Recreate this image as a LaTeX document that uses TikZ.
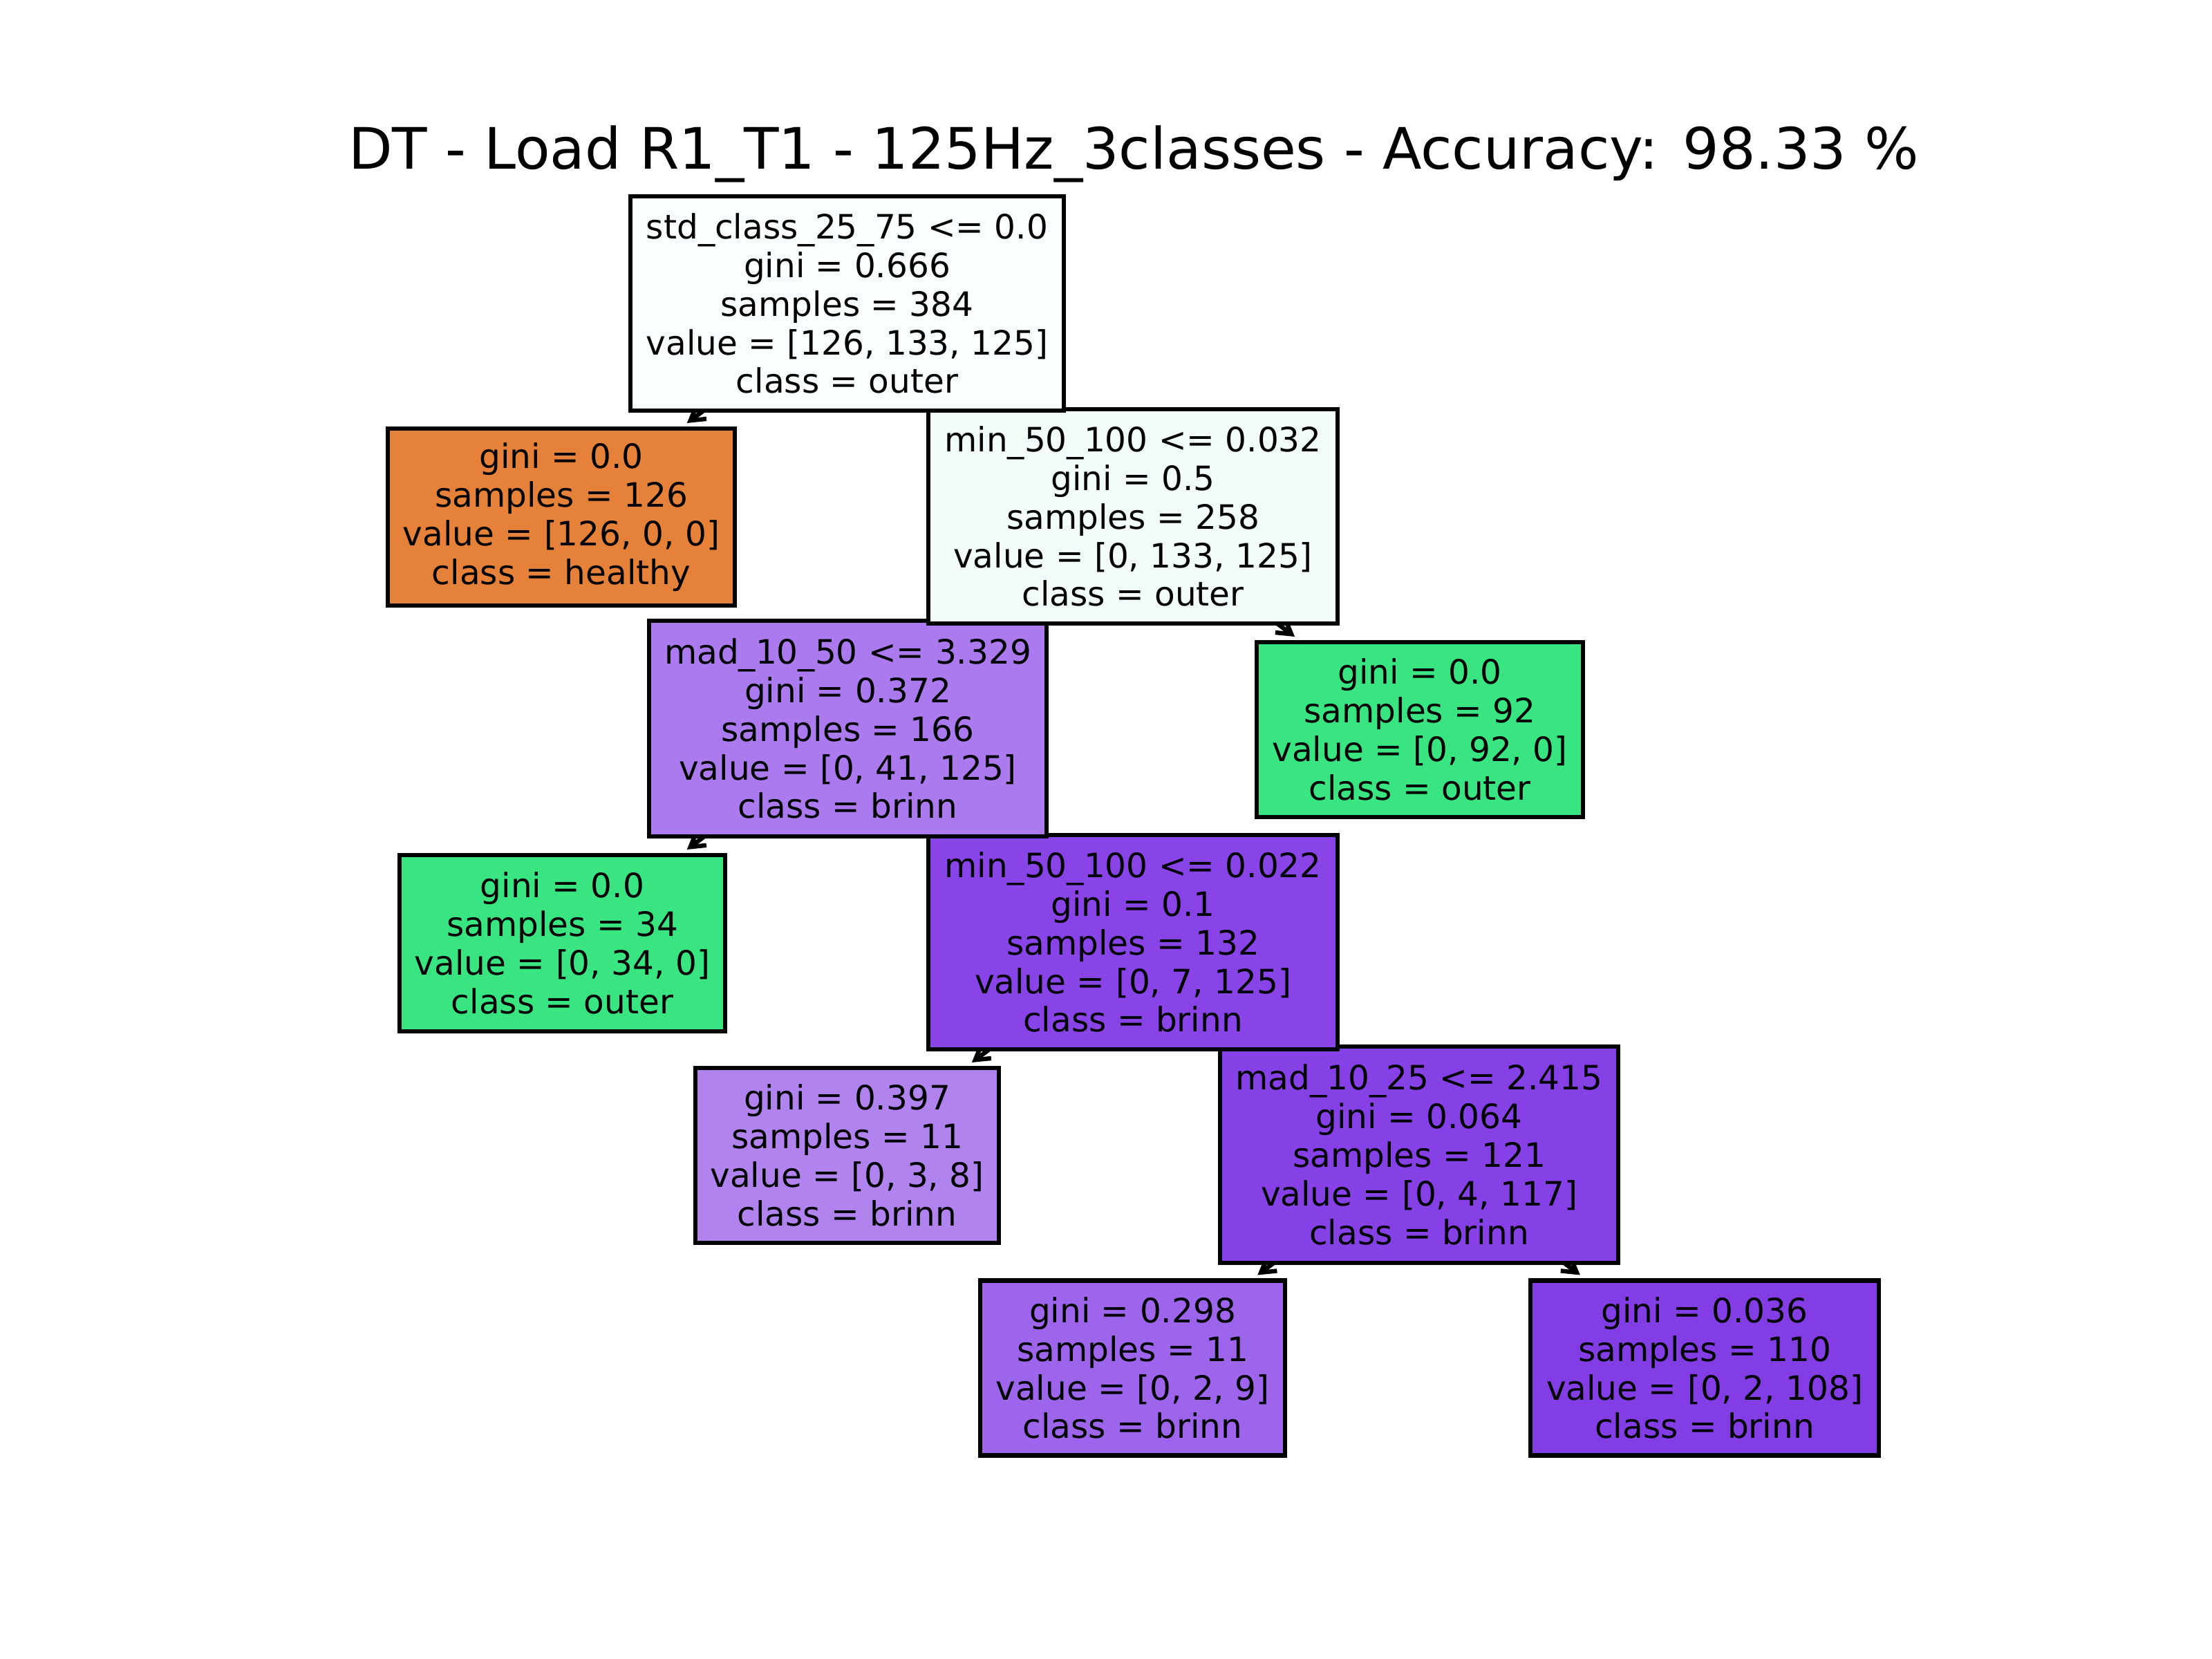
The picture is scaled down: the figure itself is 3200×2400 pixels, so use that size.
\documentclass[tikz,border=0pt]{standalone}
\usepackage{fontspec}
\setmainfont{DejaVu Sans}
\usetikzlibrary{arrows.meta,backgrounds}
\definecolor{cRoot}{RGB}{250,254,252}
\definecolor{cMinA}{RGB}{243,253,247}
\definecolor{cMadA}{RGB}{170,122,238}
\definecolor{cMinB}{RGB}{136,68,230}
\definecolor{cBrA}{RGB}{176,131,239}
\definecolor{cMadB}{RGB}{133,64,230}
\definecolor{cBrB}{RGB}{157,101,235}
\definecolor{cBrC}{RGB}{131,61,229}
\definecolor{cHealthy}{RGB}{229,129,57}
\definecolor{cOuter}{RGB}{57,229,129}
\tikzset{
  tree/.style={draw=black, line width=1.8pt, inner sep=0pt, align=center,
    font=\fontsize{13.8}{15.9}\selectfont, text=black},
  edge/.style={line width=1.8pt, -{Straight Barb[length=0.2cm,width=0.24cm]}, shorten >=0.08cm},
  ttl/.style={font=\fontsize{23.5}{28}\selectfont, anchor=base}
}
\begin{document}
\begin{tikzpicture}[x=0.01cm,y=-0.01cm]
\useasboundingbox (0,0) rectangle (3200,2400);
\node[ttl] (title) at (1640,245) {DT - Load R1\_T1 - 125Hz\_3classes - Accuracy: 98.33 \%};
% deepest first, so parents lie on top
\node[tree, fill=cBrC, minimum width=5.04cm, minimum height=2.53cm] (n10) at (2466,1979)
  {gini = 0.036\\samples = 110\\value = [0, 2, 108]\\class = brinn};
\node[tree, fill=cBrB, minimum width=4.41cm, minimum height=2.53cm] (n9) at (1638.5,1979)
  {gini = 0.298\\samples = 11\\value = [0, 2, 9]\\class = brinn};
\node[tree, fill=cMadB, minimum width=5.76cm, minimum height=3.13cm] (n8) at (2053,1670.5)
  {mad\_10\_25 <= 2.415\\gini = 0.064\\samples = 121\\value = [0, 4, 117]\\class = brinn};
\node[tree, fill=cBrA, minimum width=4.39cm, minimum height=2.53cm] (n7) at (1225.5,1671.5)
  {gini = 0.397\\samples = 11\\value = [0, 3, 8]\\class = brinn};
\node[tree, fill=cMinB, minimum width=5.92cm, minimum height=3.10cm] (n6) at (1639,1363)
  {min\_50\_100 <= 0.022\\gini = 0.1\\samples = 132\\value = [0, 7, 125]\\class = brinn};
\node[tree, fill=cOuter, minimum width=4.71cm, minimum height=2.55cm] (n5) at (813.5,1364.5)
  {gini = 0.0\\samples = 34\\value = [0, 34, 0]\\class = outer};
\node[tree, fill=cOuter, minimum width=4.72cm, minimum height=2.53cm] (n4) at (2054,1055.5)
  {gini = 0.0\\samples = 92\\value = [0, 92, 0]\\class = outer};
\node[tree, fill=cMadA, minimum width=5.75cm, minimum height=3.12cm] (n3) at (1226.5,1054)
  {mad\_10\_50 <= 3.329\\gini = 0.372\\samples = 166\\value = [0, 41, 125]\\class = brinn};
\node[tree, fill=cMinA, minimum width=5.92cm, minimum height=3.10cm] (n2) at (1639,747)
  {min\_50\_100 <= 0.032\\gini = 0.5\\samples = 258\\value = [0, 133, 125]\\class = outer};
\node[tree, fill=cHealthy, minimum width=5.02cm, minimum height=2.56cm] (n1) at (812,748)
  {gini = 0.0\\samples = 126\\value = [126, 0, 0]\\class = healthy};
\node[tree, fill=cRoot, minimum width=6.27cm, minimum height=3.10cm] (n0) at (1225.5,439)
  {std\_class\_25\_75 <= 0.0\\gini = 0.666\\samples = 384\\value = [126, 133, 125]\\class = outer};
\begin{scope}[on background layer]
\draw[edge] (n0.center) -- (n1);
\draw[edge] (n0.center) -- (n2);
\draw[edge] (n2.center) -- (n3);
\draw[edge] (n2.center) -- (n4);
\draw[edge] (n3.center) -- (n5);
\draw[edge] (n3.center) -- (n6);
\draw[edge] (n6.center) -- (n7);
\draw[edge] (n6.center) -- (n8);
\draw[edge] (n8.center) -- (n9);
\draw[edge] (n8.center) -- (n10);
\end{scope}
\end{tikzpicture}
\end{document}
